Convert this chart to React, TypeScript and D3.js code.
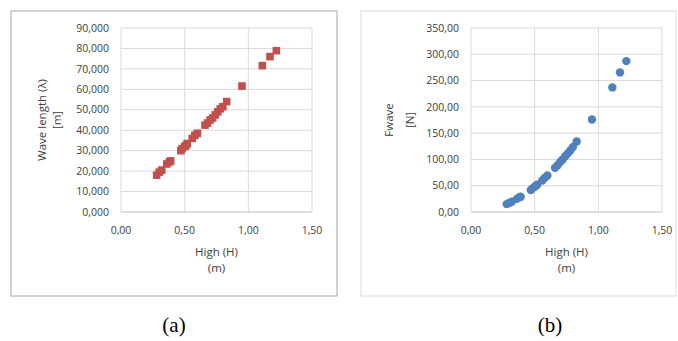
import React from 'react';
import * as d3 from 'd3';

// wave height H (m), shared by both panels
const high = [0.28, 0.30, 0.32, 0.36, 0.38, 0.39, 0.47, 0.48, 0.50, 0.51, 0.52, 0.56, 0.58, 0.60,
  0.66, 0.68, 0.70, 0.72, 0.74, 0.76, 0.78, 0.80, 0.83, 0.95, 1.11, 1.17, 1.22];
// panel (a) wave length
const waveLength = [18000, 19500, 20500, 23500, 24500, 25000, 30000, 31000, 32000, 32500, 33500, 36000,
  37500, 38500, 42500, 43500, 45000, 46000, 47500, 49000, 50500, 51500, 54000, 61600, 71600, 76000, 78900];
// panel (b) wave force
const fwave = [15, 17, 19.5, 25, 28, 29, 42, 44.5, 48, 50, 52, 60, 65, 69.5, 84, 89, 95, 100, 106,
  111.5, 117, 123.5, 134, 176, 237, 265.5, 287];

const xTicks = [0, 0.5, 1, 1.5];
const lambdaTicks = [0, 10000, 20000, 30000, 40000, 50000, 60000, 70000, 80000, 90000];
const fTicks = [0, 50, 100, 150, 200, 250, 300, 350];

const font = "'Open Sans', 'Liberation Sans', sans-serif";
const txt = '#404040';
const grid = '#d9d9d9';

const fmtComma = (v: number, d: number) => v.toFixed(d).replace('.', ',');
const fmtThousand = (v: number) => {
  const s = String(Math.round(v));
  return s.length > 3 ? s.slice(0, -3) + ',' + s.slice(-3) : '0,000';
};

function Panel({ left, right, yMax, yTicks, yFmt, ys, titles, titleX, marker, color, frame, border }: any) {
  const x = d3.scaleLinear().domain([0, 1.5]).range([left, right]);
  const y = d3.scaleLinear().domain([0, yMax]).range([212, 28]);
  return (
    <g>
      <rect x={frame[0]} y={11} width={frame[1] - frame[0]} height={285} fill="white" stroke={border} />
      {yTicks.map((t: number) => (
        <line key={'g' + t} x1={left} x2={right} y1={y(t)} y2={y(t)} stroke={t === 0 ? '#bfbfbf' : grid} />
      ))}
      {xTicks.map((t) => (
        <line key={'v' + t} x1={x(t)} x2={x(t)} y1={28} y2={212} stroke={grid} />
      ))}
      {yTicks.map((t: number) => (
        <text key={'yl' + t} x={left - 12} y={y(t)} dy="0.35em" textAnchor="end" fontSize={10.5} fill={txt}>{yFmt(t)}</text>
      ))}
      {xTicks.map((t) => (
        <text key={'xl' + t} x={x(t)} y={230} dy="0.35em" textAnchor="middle" fontSize={10.5} fill={txt}>{fmtComma(t, 2)}</text>
      ))}
      <text x={(left + right) / 2} y={252} dy="0.35em" textAnchor="middle" fontSize={11.5} fill={txt}>High (H)</text>
      <text x={(left + right) / 2} y={268} dy="0.35em" textAnchor="middle" fontSize={11.5} fill={txt}>(m)</text>
      {titles.map((t: string, i: number) => (
        <text key={t} transform={`translate(${titleX[i]}, 120) rotate(-90)`}
          dy="0.35em" textAnchor="middle" fontSize={11.5} fill={txt}>{t}</text>
      ))}
      {high.map((h, i) => marker === 'square' ? (
        <rect key={i} x={x(h) - 3.8} y={y(ys[i]) - 3.8} width={7.6} height={7.6} fill={color} />
      ) : (
        <circle key={i} cx={x(h)} cy={y(ys[i])} r={4.2} fill={color} />
      ))}
    </g>
  );
}

export default function App() {
  return (
    <svg width={678} height={341} style={{ position: 'absolute', left: 0, top: 0, fontFamily: font }}>
      <rect width={678} height={341} fill="white" />
      <Panel left={121} right={312} yMax={90000} yTicks={lambdaTicks} yFmt={fmtThousand} ys={waveLength}
        titles={['Wave length (λ)', '[m]']} titleX={[42, 57]} marker="square" color="#c0504d"
        frame={[11, 337]} border="#a6a6a6" />
      <Panel left={471} right={662} yMax={350} yTicks={fTicks} yFmt={(v: number) => fmtComma(v, 2)} ys={fwave}
        titles={['Fwave', '[N]']} titleX={[389, 410]} marker="circle" color="#4f81bd"
        frame={[361, 676]} border="#d9d9d9" />
      <text x={174} y={325} dy="0.35em" textAnchor="middle" fontSize={21} fontFamily="'Liberation Serif', serif">(a)</text>
      <text x={550} y={325} dy="0.35em" textAnchor="middle" fontSize={21} fontFamily="'Liberation Serif', serif">(b)</text>
    </svg>
  );
}
